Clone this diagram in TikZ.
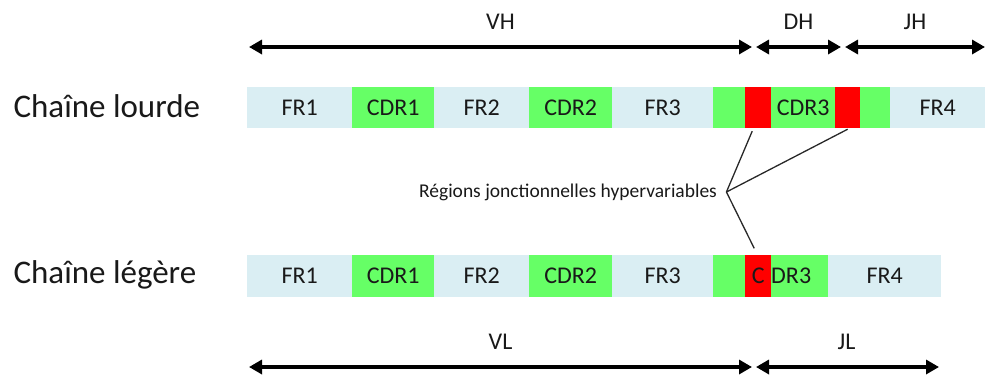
\documentclass[tikz,border=0pt]{standalone}
\usepackage{fontspec}
\setmainfont{Carlito}
\usepackage{tikz}
\usetikzlibrary{arrows.meta, positioning, calc}

\definecolor{frblue}{RGB}{218,238,243}
\definecolor{cdrgreen}{RGB}{102,255,102}
\definecolor{jred}{RGB}{255,0,0}
\definecolor{inkgray}{RGB}{40,40,40}

\begin{document}
\begin{tikzpicture}[
		x=1pt, y=-1pt,
		every node/.style={font=\fontsize{24}{28}\selectfont, text=black!90},
		cell/.style={rectangle, draw=none, inner sep=0pt, minimum height=41pt, anchor=west},
		span/.style={{Triangle[length=13pt,width=14pt]}-{Triangle[length=13pt,width=14pt]}, line width=3.8pt},
		chain/.style={font=\fontsize{33}{38}\selectfont, anchor=base west},
		pointer/.style={inkgray, line width=1.3pt}
		]
		
		\useasboundingbox (0,0) rectangle (985,378);
		
		% === CHAIN NAMES ===
		\node[chain] (heavy) at (10,117) {Chaîne lourde};
		\node[chain] (light) at (10,283) {Chaîne légère};
		
		% === HEAVY CHAIN SEGMENTS ===
		\foreach \name/\x/\w/\col/\txt in {h1/247/105/frblue/FR1,
			h2/352/82/cdrgreen/CDR1,
			h3/434/95/frblue/FR2,
			h4/529/83/cdrgreen/CDR2,
			h5/612/101/frblue/FR3,
			h6/713/32/cdrgreen/{},
			h7/745/26/jred/{},
			h8/771/64/cdrgreen/CDR3,
			h9/835/25/jred/{},
			h10/860/30/cdrgreen/{},
			h11/890/95/frblue/FR4} {
			\node[cell, fill=\col, minimum width=\w pt] (\name) at (\x,107.5) {\txt};
		}
		
		% === LIGHT CHAIN SEGMENTS ===
		\foreach \name/\x/\w/\col/\txt in {l1/247/105/frblue/FR1,
			l2/352/82/cdrgreen/CDR1,
			l3/434/95/frblue/FR2,
			l4/529/83/cdrgreen/CDR2,
			l5/612/101/frblue/FR3,
			l6/713/32/cdrgreen/{},
			l7/745/26/jred/C,
			l8/771/57/cdrgreen/{},
			l9/828/113/frblue/FR4} {
			\node[cell, fill=\col, minimum width=\w pt, minimum height=42pt] (\name) at (\x,275.5) {\txt};
		}
		\node[anchor=west, inner sep=0pt] (dr3) at (l8.west) {DR3};
		
		% === GENE SEGMENT SPANS ===
		\coordinate (vh0) at (249,47);
		\coordinate (vh1) at (752,47);
		\coordinate (dh0) at (756,47);
		\coordinate (dh1) at (841,47);
		\coordinate (jh0) at (845,47);
		\coordinate (jh1) at (985,47);
		\coordinate (vl0) at (249,367);
		\coordinate (vl1) at (752,367);
		\coordinate (jl0) at (756,367);
		\coordinate (jl1) at (939,367);
		
		\draw[span] (vh0) -- node[above=12pt] {VH} (vh1);
		\draw[span] (dh0) -- node[above=12pt] {DH} (dh1);
		\draw[span] (jh0) -- node[above=12pt] {JH} (jh1);
		\draw[span] (vl0) -- node[above=12pt] {VL} (vl1);
		\draw[span] (jl0) -- node[above=12pt, xshift=-1pt] {JL} (jl1);
		
		% === HYPERVARIABLE JUNCTIONS ===
		\node[font=\fontsize{19.5}{22}\selectfont] (junction) at (568,192) {Régions jonctionnelles hypervariables};
		\coordinate[right=6pt of junction] (hub);
		
		\draw[pointer] (hub) -- ([xshift=-6pt,yshift=-3pt]h7.south);
		\draw[pointer] (hub) -- ([yshift=-1pt]h9.south);
		\draw[pointer] (hub) -- ([xshift=-4pt,yshift=6pt]l7.north);
		
	\end{tikzpicture}
\end{document}
